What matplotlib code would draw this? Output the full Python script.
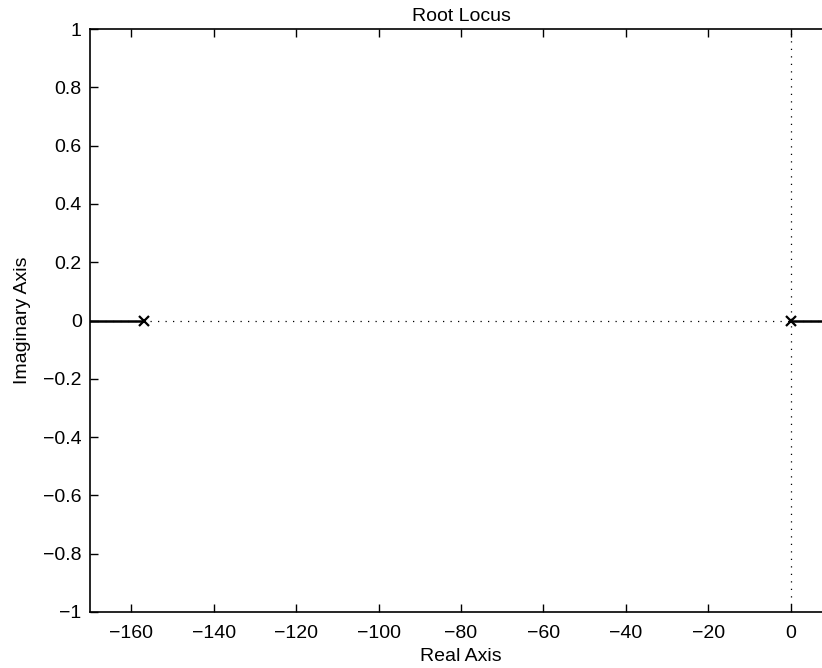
import matplotlib
matplotlib.use("Agg")
import matplotlib.pyplot as plt

plt.rcParams['font.family'] = ['Liberation Sans', 'DejaVu Sans']

# Open-loop poles of the system (real axis)
pole_re = [-157.0, 0.0]
pole_im = [0.0, 0.0]

# Locus branches along the real axis
branch_left_re = [-170.0, -157.0]
branch_right_re = [0.0, 10.0]

x_ticks = [-160, -140, -120, -100, -80, -60, -40, -20, 0]
y_ticks = [-1, -0.8, -0.6, -0.4, -0.2, 0, 0.2, 0.4, 0.6, 0.8, 1]
x_lim = (-170, 10)
y_lim = (-1, 1)


def fmt(v):
    s = f"{v:g}"
    return s.replace('-', '\u2212')


fig = plt.figure(figsize=(8.22, 6.68), dpi=100)
ax = fig.add_axes([90/822, 56/668, 742/822, 583/668])

# Dotted reference axes
ax.axhline(0, color='black', linestyle=(0, (1, 5)), linewidth=0.9, zorder=1)
ax.axvline(0, color='black', linestyle=(0, (1, 5)), linewidth=0.9, zorder=1)

# Locus branches
ax.plot(branch_left_re, [0, 0], color='black', linewidth=1.8, zorder=2)
ax.plot(branch_right_re, [0, 0], color='black', linewidth=1.8, zorder=2)

# Poles
ax.plot(pole_re, pole_im, linestyle='none', marker='x', color='black',
        markersize=7.5, markeredgewidth=1.6, zorder=3)

ax.set_xlim(*x_lim)
ax.set_ylim(*y_lim)
ax.set_xticks(x_ticks)
ax.set_xticklabels([fmt(v) for v in x_ticks])
ax.set_yticks(y_ticks)
ax.set_yticklabels([fmt(v) for v in y_ticks])
ax.tick_params(axis='x', direction='in', top=True, length=6, width=1,
               labelsize=14, pad=9)
ax.tick_params(axis='y', direction='in', right=True, length=6, width=1,
               labelsize=14, pad=6)
for s in ax.spines.values():
    s.set_linewidth(1.2)

ax.set_title('Root Locus', fontsize=14, pad=6)
ax.set_xlabel('Real Axis', fontsize=14, labelpad=5)
ax.set_ylabel('Imaginary Axis', fontsize=14, labelpad=9)

fig.savefig('out.png', dpi=100)
